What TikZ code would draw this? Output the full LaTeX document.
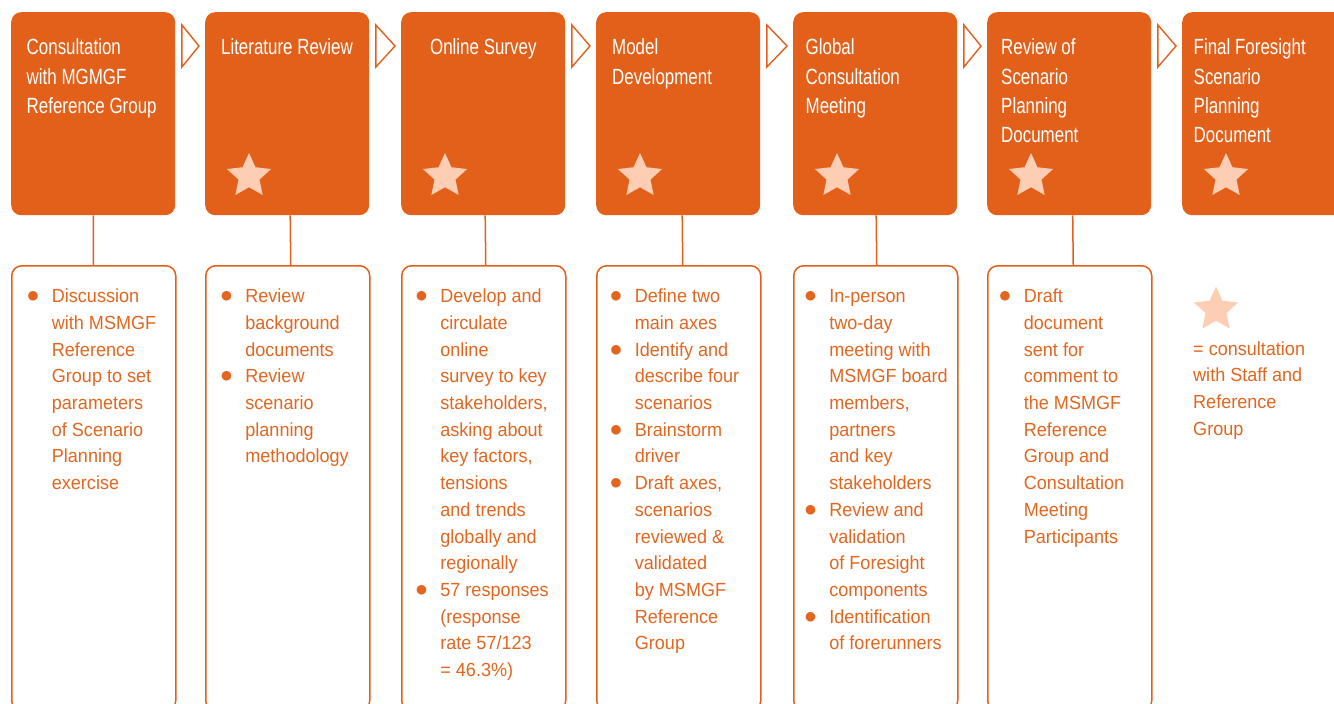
\documentclass[tikz,border=0pt]{standalone}
\usepackage{fontspec}
\setmainfont{Liberation Sans}[FakeStretch=0.95]
\newfontfamily\headfont{Liberation Sans}[FakeStretch=0.77]
\usetikzlibrary{shapes.geometric}
\definecolor{mgorange}{HTML}{E2601A}
\definecolor{mgtext}{HTML}{E2661F}
\definecolor{mgstar}{HTML}{FDCDB4}
\newcommand\bul{{\fontsize{23}{26.7}\selectfont$\bullet$}}
\tikzset{
  stage/.style={anchor=north west, fill=mgorange, rounded corners=10pt,
    minimum width=164pt, minimum height=203pt, inner sep=0pt},
  detail/.style={anchor=north west, draw=mgorange, line width=1.5pt, rounded corners=10pt,
    minimum width=164pt, minimum height=445pt, inner sep=0pt},
  head/.style={text=white, inner sep=0pt, font={\headfont\fontsize{22}{29.5}\selectfont}},
  body/.style={text=mgtext, inner sep=0pt, anchor=base west, font={\fontsize{19}{26.7}\selectfont}},
  star5/.style={star, star points=5, star point ratio=2.1, fill=mgstar,
    minimum size=46.4pt, inner sep=0pt},
  chev/.style={draw=mgorange, line width=1.4pt, line join=miter},
  link/.style={draw=mgorange, line width=1.5pt}
}
\begin{document}
\begin{tikzpicture}[x=1pt, y=-1pt]
\useasboundingbox (0,0) rectangle (1334,704);
\clip (0,0) rectangle (1334,704);
\node[stage] (s1) at (11,12) {};
\node[stage] (s2) at (205,12) {};
\node[stage] (s3) at (401,12) {};
\node[stage] (s4) at (596,12) {};
\node[stage] (s5) at (793,12) {};
\node[stage] (s6) at (987,12) {};
\node[stage] (s7) at (1182,12) {};
\draw[chev] ([xshift=6.5pt,yshift=-13pt]s1.north east) -- ([xshift=6.5pt,yshift=-55pt]s1.north east) -- ([xshift=-6pt,yshift=-34pt]s2.north west) -- cycle;
\draw[chev] ([xshift=6.5pt,yshift=-13pt]s2.north east) -- ([xshift=6.5pt,yshift=-55pt]s2.north east) -- ([xshift=-6pt,yshift=-34pt]s3.north west) -- cycle;
\draw[chev] ([xshift=6.5pt,yshift=-13pt]s3.north east) -- ([xshift=6.5pt,yshift=-55pt]s3.north east) -- ([xshift=-6pt,yshift=-34pt]s4.north west) -- cycle;
\draw[chev] ([xshift=6.5pt,yshift=-13pt]s4.north east) -- ([xshift=6.5pt,yshift=-55pt]s4.north east) -- ([xshift=-6pt,yshift=-34pt]s5.north west) -- cycle;
\draw[chev] ([xshift=6.5pt,yshift=-13pt]s5.north east) -- ([xshift=6.5pt,yshift=-55pt]s5.north east) -- ([xshift=-6pt,yshift=-34pt]s6.north west) -- cycle;
\draw[chev] ([xshift=6.5pt,yshift=-13pt]s6.north east) -- ([xshift=6.5pt,yshift=-55pt]s6.north east) -- ([xshift=-6pt,yshift=-34pt]s7.north west) -- cycle;
\node[head, anchor=base west] (h1) at (26.5,54.5) {\begin{tabular}[t]{@{}l@{}}Consultation\\with MGMGF\\Reference Group\end{tabular}};
\node[head, anchor=base] (h2) at (287,54.5) {Literature Review};
\node[head, anchor=base] (h3) at (483.3,54.5) {Online Survey};
\node[head, anchor=base west] (h4) at (612,54.5) {\begin{tabular}[t]{@{}l@{}}Model\\Development\end{tabular}};
\node[head, anchor=base west] (h5) at (805.5,54.5) {\begin{tabular}[t]{@{}l@{}}Global\\Consultation\\Meeting\end{tabular}};
\node[head, anchor=base west] (h6) at (1001,54.5) {\begin{tabular}[t]{@{}l@{}}Review of\\Scenario\\Planning\\Document\end{tabular}};
\node[head, anchor=base west] (h7) at (1193.5,54.5) {\begin{tabular}[t]{@{}l@{}}Final Foresight\\Scenario\\Planning\\Document\end{tabular}};
\node[star5] (k2) at (249,176.2) {};
\node[star5] (k3) at (445,176.2) {};
\node[star5] (k4) at (640,176.2) {};
\node[star5] (k5) at (837,176.2) {};
\node[star5] (k6) at (1031,176.2) {};
\node[star5] (k7) at (1226,176.2) {};
\node[detail] (d1) at (11,265) {};
\node[detail] (d2) at (205,265) {};
\node[detail] (d3) at (401,265) {};
\node[detail] (d4) at (596,265) {};
\node[detail] (d5) at (793,265) {};
\node[detail] (d6) at (987,265) {};
\draw[link] (s1) -- (d1);
\draw[link] ([xshift=3pt]s2.south) -- ([xshift=3pt]d2.north);
\draw[link] ([xshift=2pt]s3.south) -- ([xshift=2pt]d3.north);
\draw[link] ([xshift=4pt]s4.south) -- ([xshift=4pt]d4.north);
\draw[link] ([xshift=1pt]s5.south) -- ([xshift=1pt]d5.north);
\draw[link] ([xshift=3.5pt]s6.south) -- ([xshift=3.5pt]d6.north);
\node[body] (b1) at (26.75,302.7) {\begin{tabular}[t]{@{}c@{\hspace{12.5pt}}l@{}}
\bul & Discussion\\ & with MSMGF\\ & Reference\\ & Group to set\\ & parameters\\ & of Scenario\\ & Planning\\ & exercise
\end{tabular}};
\node[body] (b2) at (220.25,302.7) {\begin{tabular}[t]{@{}c@{\hspace{12.5pt}}l@{}}
\bul & Review\\ & background\\ & documents\\
\bul & Review\\ & scenario\\ & planning\\ & methodology
\end{tabular}};
\node[body] (b3) at (415.25,302.7) {\begin{tabular}[t]{@{}c@{\hspace{12.5pt}}l@{}}
\bul & Develop and\\ & circulate\\ & online\\ & survey to key\\ & stakeholders,\\ & asking about\\ & key factors,\\ & tensions\\ & and trends\\ & globally and\\ & regionally\\
\bul & 57 responses\\ & (response\\ & rate 57/123\\ & = 46.3\%)
\end{tabular}};
\node[body] (b4) at (609.75,302.7) {\begin{tabular}[t]{@{}c@{\hspace{12.5pt}}l@{}}
\bul & Define two\\ & main axes\\
\bul & Identify and\\ & describe four\\ & scenarios\\
\bul & Brainstorm\\ & driver\\
\bul & Draft axes,\\ & scenarios\\ & reviewed \&\\ & validated\\ & by MSMGF\\ & Reference\\ & Group
\end{tabular}};
\node[body] (b5) at (804.25,302.7) {\begin{tabular}[t]{@{}c@{\hspace{12.5pt}}l@{}}
\bul & In-person\\ & two-day\\ & meeting with\\ & MSMGF board\\ & members,\\ & partners\\ & and key\\ & stakeholders\\
\bul & Review and\\ & validation\\ & of Foresight\\ & components\\
\bul & Identification\\ & of forerunners
\end{tabular}};
\node[body] (b6) at (998.75,302.7) {\begin{tabular}[t]{@{}c@{\hspace{12.5pt}}l@{}}
\bul & Draft\\ & document\\ & sent for\\ & comment to\\ & the MSMGF\\ & Reference\\ & Group and\\ & Consultation\\ & Meeting\\ & Participants
\end{tabular}};
\node[star5] (key) at (1216,309.7) {};
\node[body] (keytext) at (1193,355) {\begin{tabular}[t]{@{}l@{}}= consultation\\with Staff and\\Reference\\Group\end{tabular}};
\end{tikzpicture}
\end{document}
